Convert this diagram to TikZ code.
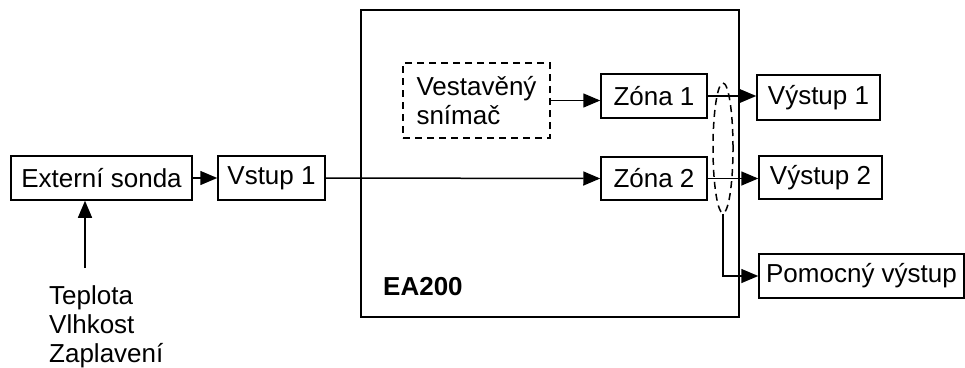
\documentclass[tikz,border=0pt]{standalone}
\usepackage{fontspec}
\setmainfont{Liberation Sans}
\usetikzlibrary{arrows.meta,shapes.geometric}
\begin{document}
\begin{tikzpicture}[x=1pt,y=-1pt,
  font=\fontsize{26}{29}\selectfont,
  box/.style={draw,line width=1.5pt,inner sep=0pt},
  dbox/.style={draw,line width=1.5pt,inner sep=0pt,dash pattern=on 7pt off 5pt},
  conn/.style={line width=1.5pt,-{Triangle[length=17pt,width=14pt]}},
  plain/.style={line width=1.5pt}]
\useasboundingbox (0,0) rectangle (965,367);
% big box
\node[box,minimum width=378pt,minimum height=307pt] (ea) at (550,163.5) {};
\node[anchor=base west,inner sep=0pt,font=\fontsize{26}{29}\selectfont\bfseries] (ealabel) at (383,295) {EA200};
% boxes
\node[box,minimum width=181pt,minimum height=44pt] (ext) at (101.5,178) {Externí sonda};
\node[box,minimum width=107pt,minimum height=44pt] (vstup) at (271.5,178) {Vstup 1};
\node[dbox,minimum width=147pt,minimum height=75pt,align=left] (vest) at (476.5,100.5) {Vestavěný\\snímač};
\node[box,minimum width=106pt,minimum height=44pt] (z1) at (654,96) {Zóna 1};
\node[box,minimum width=106pt,minimum height=43pt] (z2) at (654,178.5) {Zóna 2};
\node[box,minimum width=123pt,minimum height=45pt] (v1) at (818.5,97.5) {Výstup 1};
\node[box,minimum width=123pt,minimum height=43pt] (v2) at (820.5,177.5) {Výstup 2};
\node[box,minimum width=205pt,minimum height=44pt] (pom) at (861.5,276) {Pomocný výstup};
% source text
\node[anchor=base west,inner sep=0pt] (t1) at (49,304) {Teplota};
\node[anchor=base west,inner sep=0pt] (t2) at (49,333) {Vlhkost};
\node[anchor=base west,inner sep=0pt] (t3) at (49,362) {Zaplavení};
\coordinate (src) at (85,268);
% ellipse
\node[draw,ellipse,line width=1.5pt,dash pattern=on 7pt off 5pt,minimum width=20pt,minimum height=130pt,inner sep=0pt] (ell) at (723,148) {};
% connectors
\draw[conn] (src) -- (src |- ext.south);
\draw[conn] (ext.east) -- (vstup.west);
\draw[conn] (vstup.east) -- (z2.west);
\draw[conn] (vest.east) -- (vest.east -| z1.west);
\draw[conn] (z1.east) -- (z1.east -| v1.west);
\draw[conn] (z2.east) -- (z2.east -| v2.west);
\draw[conn] (ell.south) |- (pom.west);
\end{tikzpicture}
\end{document}
